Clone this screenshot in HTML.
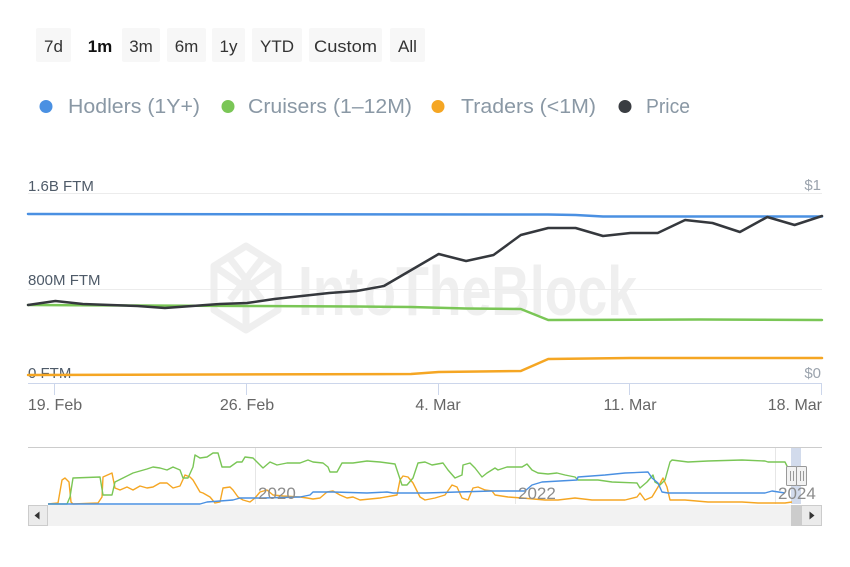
<!DOCTYPE html>
<html><head><meta charset="utf-8"><style>
html,body{margin:0;padding:0;background:#fff;}
svg{display:block;font-family:"Liberation Sans",Arial,sans-serif;}
</style></head><body>
<svg width="850" height="567" viewBox="0 0 850 567" xmlns="http://www.w3.org/2000/svg">
<rect width="850" height="567" fill="#fff"/>
<!-- range buttons -->
<g font-size="17" fill="#333" text-anchor="middle">
<rect x="36" y="28" width="35" height="34" rx="2" fill="#f7f7f7"/><text x="53.5" y="52">7d</text>
<text x="100" y="52" font-weight="bold" fill="#111">1m</text>
<rect x="122" y="28" width="38" height="34" rx="2" fill="#f7f7f7"/><text x="141" y="52">3m</text>
<rect x="167" y="28" width="39" height="34" rx="2" fill="#f7f7f7"/><text x="186.5" y="52">6m</text>
<rect x="212" y="28" width="33" height="34" rx="2" fill="#f7f7f7"/><text x="228.5" y="52">1y</text>
<rect x="252" y="28" width="50" height="34" rx="2" fill="#f7f7f7"/><text x="277" y="52" textLength="34" lengthAdjust="spacingAndGlyphs">YTD</text>
<rect x="309" y="28" width="73" height="34" rx="2" fill="#f7f7f7"/><text x="345.5" y="52" textLength="63" lengthAdjust="spacingAndGlyphs">Custom</text>
<rect x="390" y="28" width="35" height="34" rx="2" fill="#f7f7f7"/><text x="407.5" y="52">All</text>
</g>
<!-- legend -->
<g font-size="20" fill="#8a98a5">
<circle cx="46" cy="106.5" r="6.5" fill="#4a90e2"/><text x="68" y="113" textLength="132" lengthAdjust="spacingAndGlyphs">Hodlers (1Y+)</text>
<circle cx="228" cy="106.5" r="6.5" fill="#7ac656"/><text x="248" y="113" textLength="164" lengthAdjust="spacingAndGlyphs">Cruisers (1–12M)</text>
<circle cx="438" cy="106.5" r="6.5" fill="#f5a623"/><text x="461" y="113" textLength="135" lengthAdjust="spacingAndGlyphs">Traders (&lt;1M)</text>
<circle cx="625" cy="106.5" r="6.5" fill="#3a3d42"/><text x="646" y="113" textLength="44" lengthAdjust="spacingAndGlyphs">Price</text>
</g>
<!-- watermark -->
<g fill="none" stroke="#efefef" stroke-width="7" stroke-linejoin="round">
<polygon points="246,246 278,266 278,310 246,330 214,310 214,266"/>
<polyline points="214,266 246,288 278,266"/>
<polyline points="246,288 246,330"/>
<polyline points="228,256 262,300"/>
<polyline points="264,256 230,300"/>
</g>
<text x="298" y="315" font-size="70" font-weight="bold" fill="#efefef" textLength="339" lengthAdjust="spacingAndGlyphs">IntoTheBlock</text>
<!-- grid -->
<line x1="28" y1="193.5" x2="822" y2="193.5" stroke="#ececec" stroke-width="1"/>
<line x1="28" y1="289.5" x2="822" y2="289.5" stroke="#ececec" stroke-width="1"/>
<line x1="28" y1="383.5" x2="822" y2="383.5" stroke="#ccd6eb" stroke-width="1"/>
<g stroke="#ccd6eb" stroke-width="1">
<line x1="54.5" y1="384" x2="54.5" y2="395"/>
<line x1="246.5" y1="384" x2="246.5" y2="395"/>
<line x1="438.5" y1="384" x2="438.5" y2="395"/>
<line x1="629.5" y1="384" x2="629.5" y2="395"/>
<line x1="821.5" y1="384" x2="821.5" y2="395"/>
</g>
<!-- axis labels -->
<g font-size="15" fill="#4f5b69">
<text x="28" y="191">1.6B FTM</text>
<text x="28" y="285">800M FTM</text>
<text x="28" y="378">0 FTM</text>
</g>
<g font-size="15" fill="#9ba3ad" text-anchor="end">
<text x="821" y="190">$1</text>
<text x="821" y="378">$0</text>
</g>
<g font-size="16" fill="#666" text-anchor="middle">
<text x="55" y="410">19. Feb</text>
<text x="247" y="410">26. Feb</text>
<text x="438" y="410">4. Mar</text>
<text x="630" y="410">11. Mar</text>
<text x="822" y="410" text-anchor="end">18. Mar</text>
</g>
<!-- series -->
<g fill="none" stroke-width="2.5" stroke-linejoin="round" stroke-linecap="round">
<polyline stroke="#f5a623" points="28,375 411,374 438.7,372 520.8,371 548.2,359 630,358 822,358"/>
<polyline stroke="#7ac656" points="28,305 137,305.5 247,306 356,306.5 411,307 466,308.5 520.8,309 548.2,320 700,319.5 822,320"/>
<polyline stroke="#4a90e2" points="28,214 548,214.5 575.6,215 603,216.5 822,216.5"/>
<polyline stroke="#35383d" points="28,305 55.4,301 82.8,304 110.1,305 137.5,306 164.9,308 192.3,306 219.7,304 247,303 274.4,299 301.8,296 329.2,293 356.6,291 383.9,286 411.3,270 438.7,254 466.1,261 493.5,255 520.8,235 548.2,228 575.6,228 603,236 630.4,233 657.7,233 685.1,220 712.5,223 739.9,232 767.3,217 794.6,225 822,216"/>
</g>
<!-- navigator -->
<line x1="28" y1="447.5" x2="822" y2="447.5" stroke="#cccccc" stroke-width="1"/>
<g stroke="#e6e6e6" stroke-width="1">
<line x1="255.5" y1="448" x2="255.5" y2="504"/>
<line x1="515.5" y1="448" x2="515.5" y2="504"/>
<line x1="775.5" y1="448" x2="775.5" y2="504"/>
</g>
<rect x="791" y="448" width="10" height="56" fill="#d2dbec"/>
<g fill="none" stroke-width="1.4" stroke-linejoin="round">
<polyline stroke="#f5a623" points="48,504 58,503 62,480 65,478 69,482 71,502 73,504 98,503 102,497 103,477 112,473 115,488 120,490 127,487 133,490 140,486 147,488 153,487 160,483 167,483 173,488 180,486 185,475 190,477 193,480 200,492 203,493 210,497 215,503 220,502 223,488 230,487 233,490 238,497 243,500 250,502 255,498 260,492 267,490 273,495 283,496 300,497 307,498 313,499 320,498 327,492 333,491 340,495 347,498 353,497 360,500 380,498 397,495 400,480 403,476 408,477 413,483 420,497 425,500 435,498 445,495 452,485 457,487 462,498 468,500 473,488 478,487 485,490 492,491 495,495 508,497 522,498 545,500 558,500 575,498 592,500 625,500 637,497 640,493 645,500 652,497 658,487 663,478 667,487 670,500 675,500 685,500 708,502 742,502 758,503 785,503 792,502"/>
<polyline stroke="#7ac656" points="48,504 67,504 70,497 73,478 100,477 103,495 112,495 115,482 123,478 133,473 140,471 147,469 153,467 160,468 167,470 173,467 180,470 183,478 188,478 193,467 195,455 200,458 207,457 213,453 218,453 222,467 230,467 237,462 242,462 245,457 253,458 258,463 263,468 270,462 277,465 287,463 300,463 308,460 313,462 323,463 328,467 330,472 337,472 342,463 353,463 367,461 380,462 395,464 398,473 402,485 407,485 413,478 418,463 425,462 432,465 443,463 448,470 455,478 462,475 463,465 470,463 475,468 482,477 487,473 495,468 498,470 507,467 522,467 527,464 532,470 538,473 548,474 557,473 565,475 575,477 578,480 598,480 612,482 637,483 640,488 647,482 653,475 655,482 660,485 665,480 670,462 672,460 688,462 708,461 742,460 765,461 768,462 785,462 788,468"/>
<polyline stroke="#4a90e2" points="48,504 200,504 207,502 233,500 240,498 263,498 300,497 310,495 313,492 333,492 367,493 387,492 393,493 425,493 458,492 492,491 525,491 532,485 542,482 577,480 578,477 605,475 625,473 648,472 652,478 658,483 662,492 668,493 692,493 765,493 772,491 785,493"/>
</g>
<g font-size="17" fill="#8c8c8c">
<text x="258" y="499">2020</text>
<text x="518" y="499">2022</text>
<text x="778" y="499">2024</text>
</g>
<!-- handles -->
<g fill="#f2f2f2" stroke="#999" stroke-width="1">
<rect x="786.5" y="466.5" width="10" height="19" rx="1"/>
<rect x="796.5" y="466.5" width="10" height="19" rx="1"/>
</g>
<g stroke="#999" stroke-width="1">
<line x1="790.5" y1="471" x2="790.5" y2="481"/><line x1="793.5" y1="471" x2="793.5" y2="481"/>
<line x1="800.5" y1="471" x2="800.5" y2="481"/><line x1="803.5" y1="471" x2="803.5" y2="481"/>
</g>
<!-- scrollbar -->
<rect x="28" y="505" width="794" height="21" fill="#f2f2f2"/>
<rect x="791" y="505" width="10" height="21" fill="#cccccc"/>
<rect x="28.5" y="505.5" width="19" height="20" fill="#ebebeb" stroke="#cccccc"/>
<rect x="801.5" y="505.5" width="20" height="20" fill="#ebebeb" stroke="#cccccc"/>
<polygon points="34.5,515.5 39.5,511.5 39.5,519.5" fill="#333"/>
<polygon points="814.5,515.5 809.5,511.5 809.5,519.5" fill="#333"/>
</svg>
</body></html>
